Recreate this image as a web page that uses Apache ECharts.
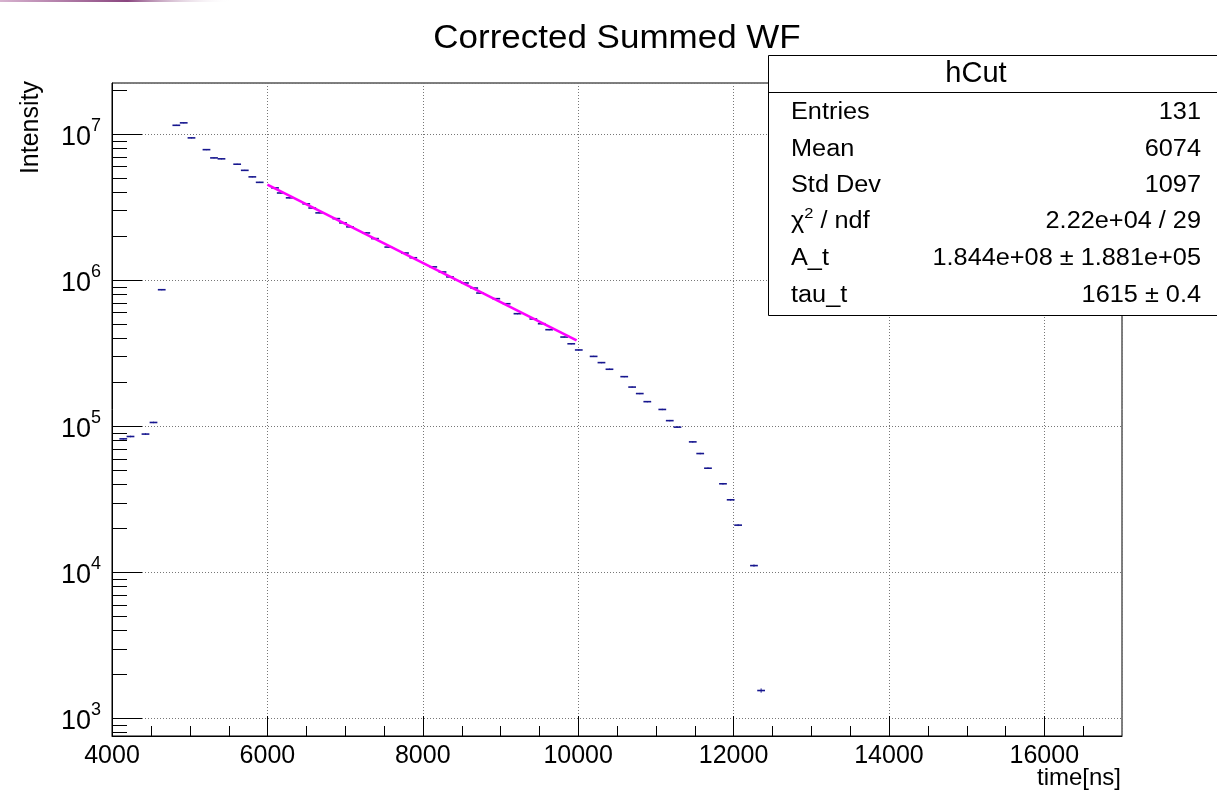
<!DOCTYPE html>
<html>
<head>
<meta charset="utf-8">
<script src="https://cdn.jsdelivr.net/npm/echarts@6/dist/echarts.min.js"></script>
<style>
html,body{margin:0;padding:0;background:#fff;}
#c{width:1217px;height:794px;}
</style>
</head>
<body>
<div id="c"></div>
<script>
// ---- data ----
const binCenters = [4145, 4238, 4431, 4534, 4640, 4828, 4923, 5023, 5216, 5313, 5409, 5611, 5709, 5806, 5901,
  6098, 6172, 6287, 6500, 6577, 6667, 6887, 6973, 7063, 7273, 7385, 7556, 7771, 7878, 8135, 8254, 8350,
  8543, 8662, 8737, 8946, 9080, 9219, 9423, 9531, 9627, 9820, 9911, 10008, 10199, 10300, 10403, 10593,
  10695, 10793, 10890, 11083, 11179, 11278, 11475, 11571, 11671, 11864, 11963, 12059, 12263, 12355];
const intensities = [8.18e4, 8.49e4, 8.82e4, 1.059e5, 8.58e5, 1.145e7, 1.19e7, 9.39e6, 7.80e6, 6.85e6, 6.75e6, 6.20e6, 5.63e6, 5.08e6, 4.66e6,
  4.27e6, 3.94e6, 3.65e6, 3.32e6, 3.11e6, 2.88e6, 2.63e6, 2.46e6, 2.31e6, 2.10e6, 1.92e6, 1.68e6, 1.53e6, 1.42e6, 1.23e6, 1.135e6, 1.05e6,
  9.54e5, 8.81e5, 8.14e5, 7.45e5, 6.88e5, 5.88e5, 5.41e5, 5.02e5, 4.57e5, 4.07e5, 3.66e5, 3.32e5, 3.00e5, 2.72e5, 2.45e5, 2.18e5,
  1.85e5, 1.67e5, 1.47e5, 1.30e5, 1.09e5, 9.84e4, 7.80e4, 6.49e4, 5.15e4, 4.03e4, 3.13e4, 2.10e4, 1.11e4, 1.55e3];
const binWidth = 100;
const fitTimes = [6000, 9980];
const fitValues = [4.50e6, 3.86e5];
const xMin = 4000, xMax = 17000, xStep = 2000;
const yMin = 757, yMax = 2.23e7;
const xMinorTicks = [4500, 5000, 5500, 6500, 7000, 7500, 8500, 9000, 9500, 10500, 11000, 11500,
  12500, 13000, 13500, 14500, 15000, 15500, 16500];
const yMinorTicks = [800, 900, 2e3, 3e3, 4e3, 5e3, 6e3, 7e3, 8e3, 9e3, 2e4, 3e4, 4e4, 5e4, 6e4, 7e4, 8e4, 9e4,
  2e5, 3e5, 4e5, 5e5, 6e5, 7e5, 8e5, 9e5, 2e6, 3e6, 4e6, 5e6, 6e6, 7e6, 8e6, 9e6, 2e7];
const titleText = 'Corrected Summed WF';
const xName = 'time[ns]';
const yName = 'Intensity';
const statsTitle = 'hCut';
const statNames = ['Entries', 'Mean', 'Std Dev', '{a|χ}{s|2}{a| / ndf}', 'A_t', 'tau_t'];
const statValues = ['131', '6074', '1097', '2.22e+04 / 29', '1.844e+08 ± 1.881e+05', '1615 ± 0.4'];

// ---- chart ----
const FONT = '"Liberation Sans", Arial, Helvetica, sans-serif';
const FONTNAME = 'Liberation Sans';
const chart = echarts.init(document.getElementById('c'), null, {renderer: 'canvas'});
const histColor = '#17178f';

const statsGraphics = [];
const boxL = 768, boxT = 55, boxB = 315, boxSep = 92;
statsGraphics.push({type: 'rect', shape: {x: boxL + 0.5, y: boxT + 0.5, width: 480, height: boxB - boxT},
  style: {fill: '#fff', stroke: '#000', lineWidth: 1}, z: 100});
statsGraphics.push({type: 'line', shape: {x1: boxL, y1: boxSep + 0.5, x2: 1217, y2: boxSep + 0.5},
  style: {stroke: '#000', lineWidth: 1}, z: 101});
statsGraphics.push({type: 'text', x: 976, y: 74, z: 101,
  style: {text: statsTitle, font: '29px ' + FONT, fill: '#000', align: 'center', verticalAlign: 'middle'}});
const rowY = [113, 150, 186, 222, 259, 296];
statNames.forEach((n, i) => {
  const isRich = n.indexOf('{') >= 0;
  statsGraphics.push({type: 'text', x: 791, y: rowY[i] - (isRich ? 2 : 0), z: 101, scaleX: 1.1,
    style: {text: n, font: '23px ' + FONT, fill: '#000', align: 'left', verticalAlign: 'middle',
      rich: {a: {fontSize: 23, fontFamily: FONTNAME, fill: '#000', lineHeight: 27, verticalAlign: 'bottom'},
             s: {fontSize: 15, fontFamily: FONTNAME, fill: '#000', lineHeight: 27, verticalAlign: 'top'}}}});
  statsGraphics.push({type: 'text', x: 1201, y: rowY[i], z: 101, scaleX: 1.1,
    style: {text: statValues[i], font: '23px ' + FONT, fill: '#000', align: 'right', verticalAlign: 'middle'}});
});

const option = {
  backgroundColor: '#fff',
  animation: false,
  grid: {left: 112, right: 95, top: 83, bottom: 58, show: true, borderColor: '#000', borderWidth: 1,
    backgroundColor: 'transparent'},
  xAxis: {
    type: 'value', min: xMin, max: xMax, interval: xStep,
    axisLine: {show: true, onZero: false, lineStyle: {color: '#000', width: 1}},
    axisTick: {show: true, inside: true, length: 20, lineStyle: {color: '#000', width: 1}},
    minorTick: {show: false},
    axisLabel: {show: true, showMaxLabel: false, margin: 8,
      formatter: v => '{a|' + String(v) + '}',
      rich: {a: {fontSize: 25, fontFamily: FONTNAME, color: '#000'}}},
    splitLine: {show: true, lineStyle: {color: '#777', width: 1, type: [1, 2]}}
  },
  yAxis: {
    type: 'log', logBase: 10, min: yMin, max: yMax,
    axisLine: {show: true, onZero: false, lineStyle: {color: '#000', width: 1}},
    axisTick: {show: true, inside: true, length: 30, lineStyle: {color: '#000', width: 1}},
    minorTick: {show: false},
    axisLabel: {
      show: true, showMinLabel: false, showMaxLabel: false, margin: 11,
      formatter: v => '{b|10}{s|' + Math.round(Math.log10(v)) + '}',
      rich: {
        b: {fontSize: 27, fontFamily: FONTNAME, color: '#000', lineHeight: 34, verticalAlign: 'bottom'},
        s: {fontSize: 18, fontFamily: FONTNAME, color: '#000', lineHeight: 34, verticalAlign: 'top'}
      }
    },
    splitLine: {show: true, lineStyle: {color: '#777', width: 1, type: [1, 2]}}
  },
  graphic: [
    {type: 'rect', shape: {x: 0, y: 0, width: 232, height: 2}, z: 200,
      style: {fill: new echarts.graphic.LinearGradient(0, 0, 1, 0, [
        {offset: 0, color: '#d7b2cf'}, {offset: 0.55, color: '#8a467f'}, {offset: 1, color: 'rgba(255,255,255,0)'}])}},
    {type: 'text', x: 617, y: 39, z: 50, scaleX: 1.06,
      style: {text: titleText, font: '33px ' + FONT, fill: '#000', align: 'center', verticalAlign: 'middle'}},
    {type: 'text', x: 31, y: 81, rotation: Math.PI / 2, z: 50,
      style: {text: yName, font: '25px ' + FONT, fill: '#000', align: 'right', verticalAlign: 'middle'}},
    {type: 'text', x: 1121, y: 778, z: 50,
      style: {text: xName, font: '24px ' + FONT, fill: '#000', align: 'right', verticalAlign: 'middle'}}
  ].concat(statsGraphics),
  series: [
    {
      name: 'minorTicksY', type: 'custom', coordinateSystem: 'cartesian2d', silent: true, z: 5,
      data: yMinorTicks.map(v => [xMin, v]),
      renderItem: (params, api) => {
        const p = api.coord([api.value(0), api.value(1)]);
        return {type: 'line', shape: {x1: p[0], y1: Math.round(p[1]) + 0.5, x2: p[0] + 15, y2: Math.round(p[1]) + 0.5},
          style: {stroke: '#000', lineWidth: 1}};
      }
    },
    {
      name: 'minorTicksX', type: 'custom', coordinateSystem: 'cartesian2d', silent: true, z: 5,
      data: xMinorTicks.map(t => [t, yMin]),
      renderItem: (params, api) => {
        const p = api.coord([api.value(0), api.value(1)]);
        return {type: 'line', shape: {x1: Math.round(p[0]) + 0.5, y1: p[1], x2: Math.round(p[0]) + 0.5, y2: p[1] - 10},
          style: {stroke: '#000', lineWidth: 1}};
      }
    },
    {
      name: 'hCut', type: 'custom', coordinateSystem: 'cartesian2d', silent: true, z: 10, clip: true,
      data: binCenters.map((t, i) => [t, intensities[i]]),
      renderItem: (params, api) => {
        const t = api.value(0), v = api.value(1);
        const a = api.coord([t - binWidth / 2, v]);
        const b = api.coord([t + binWidth / 2, v]);
        const err = Math.sqrt(v);
        const up = api.coord([t, v + err]);
        const dn = api.coord([t, Math.max(v - err, 1)]);
        return {type: 'group', children: [
          {type: 'line', shape: {x1: a[0], y1: a[1], x2: b[0], y2: b[1]}, style: {stroke: histColor, lineWidth: 1.6}},
          {type: 'line', shape: {x1: (a[0] + b[0]) / 2, y1: up[1] - 0.5, x2: (a[0] + b[0]) / 2, y2: dn[1] + 0.5},
            style: {stroke: histColor, lineWidth: 1}}
        ]};
      }
    },
    {
      name: 'fit', type: 'line', z: 20, symbol: 'none', silent: true,
      data: fitTimes.map((t, i) => [t, fitValues[i]]),
      lineStyle: {color: '#ff00ff', width: 2.6}
    }
  ]
};
chart.setOption(option);
</script>
</body>
</html>
